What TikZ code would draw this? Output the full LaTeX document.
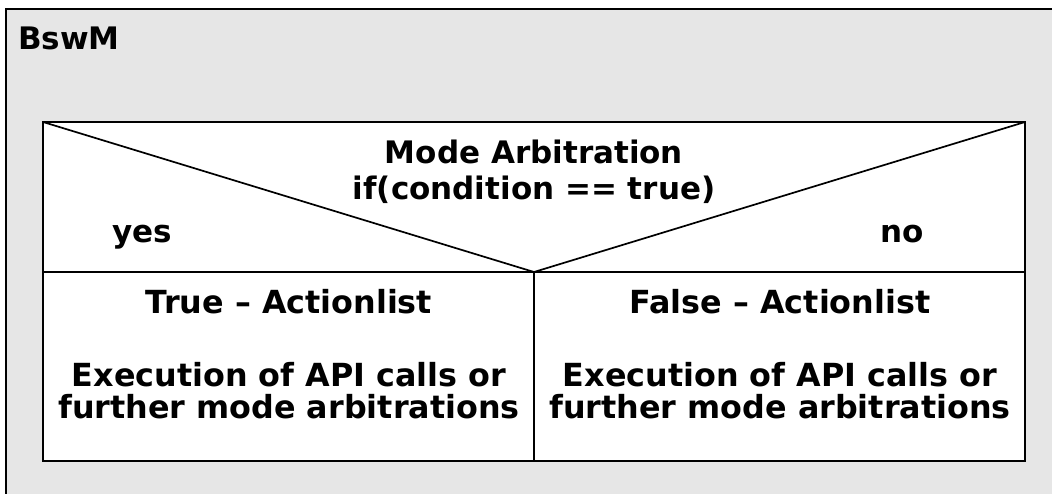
\documentclass[tikz,border=0pt]{standalone}
\usepackage{fontspec}
\setmainfont{DejaVu Sans}
\definecolor{panelgray}{RGB}{230,230,230}
\tikzset{
  frame/.style={draw=black, line width=1.7pt},
  label/.style={font=\fontsize{31}{36}\selectfont\bfseries, inner sep=0pt, text=black},
  celltext/.style={label, font=\fontsize{31.8}{36}\selectfont\bfseries},
}
\begin{document}
\begin{tikzpicture}[x=1pt, y=-1pt]
  \useasboundingbox (0,0) rectangle (1052,494);
  % module frame (runs past the right and bottom edges)
  \fill[white] (0,0) rectangle (1052,494);
  \filldraw[frame, fill=panelgray] (6,9) rectangle (1070,510);
  \node[label, anchor=base west] (title) at (18,50) {BswM};

  % structogram: decision header and two action columns
  \coordinate (tl) at (43,122);
  \coordinate (tr) at (1025,122);
  \coordinate (bl) at (43,461);
  \coordinate (br) at (1025,461);
  \coordinate (ml) at (43,272);
  \coordinate (mr) at (1025,272);
  \coordinate (apex) at (534,272);
  \coordinate (split) at (534,461);
  \filldraw[frame, fill=white] (tl) rectangle (br);
  \draw[frame] (ml) -- (mr);
  \draw[frame] (apex) -- (split);
  \draw[frame, line join=miter] (tl) -- (apex) -- (tr);

  \node[label, anchor=base] (cond1) at (534,164) {Mode Arbitration};
  \node[label, anchor=base] (cond2) at (534,200) {if(condition == true)};
  \node[label, anchor=base west] (yes) at (112,243) {yes};
  \node[label, anchor=base west] (no) at (880,243) {no};

  \node[celltext, anchor=base] (truehead) at (289,313) {True – Actionlist};
  \node[celltext, anchor=base] (truebody1) at (289,386) {Execution of API calls or};
  \node[celltext, anchor=base] (truebody2) at (289,418) {further mode arbitrations};

  \node[celltext, anchor=base] (falsehead) at (780,313) {False – Actionlist};
  \node[celltext, anchor=base] (falsebody1) at (780,386) {Execution of API calls or};
  \node[celltext, anchor=base] (falsebody2) at (780,418) {further mode arbitrations};
\end{tikzpicture}
\end{document}
